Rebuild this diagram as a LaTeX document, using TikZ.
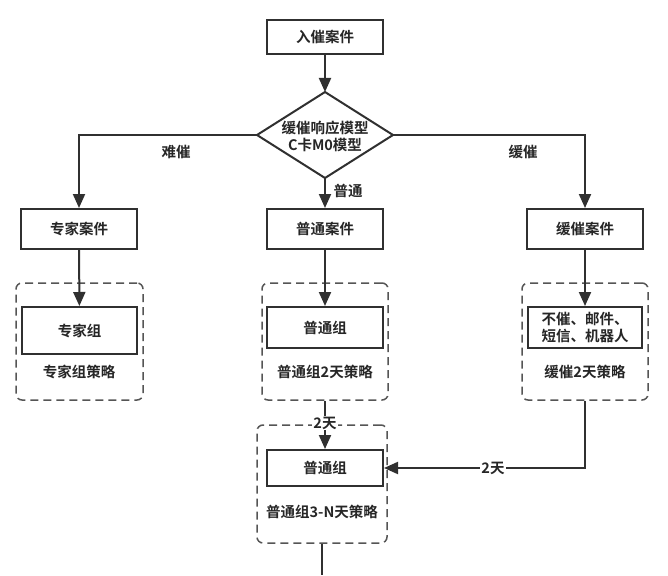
\documentclass[tikz,border=0pt]{standalone}
\usepackage{fontspec}
\setmainfont{Noto Sans CJK SC}[BoldFont={Noto Sans CJK SC Bold}]
\usetikzlibrary{arrows.meta}
\definecolor{ln}{HTML}{303030}
\definecolor{dsh}{HTML}{555555}
\definecolor{tx}{HTML}{262626}
\tikzset{
  txt/.style={font=\fontsize{14.5}{20}\selectfont\bfseries, text=tx},
  box/.style={txt, draw=ln, line width=2pt, fill=white, minimum width=116pt, minimum height=40pt, inner sep=0pt, align=center},
  grp/.style={draw=dsh, line width=1.5pt, dash pattern=on 8pt off 5pt, rounded corners=6pt, inner sep=0pt},
  arr/.style={draw=ln, line width=2pt, -{Triangle[length=14pt,width=12pt]}},
  plain/.style={draw=ln, line width=2pt},
  lbl/.style={txt, inner sep=1pt},
  wlbl/.style={txt, fill=white, inner sep=1pt}
}
\begin{document}
\begin{tikzpicture}[x=1pt,y=-1pt]
\useasboundingbox[fill=white] (0,0) rectangle (668,575);
% top
\node[box, minimum height=34pt] (n0) at (325,37) {入催案件};
% diamond
\coordinate (dT) at (325,92);
\coordinate (dL) at (257,135);
\coordinate (dR) at (393,135);
\coordinate (dB) at (325,178);
\draw[plain, line join=miter] (dT) -- (dR) -- (dB) -- (dL) -- cycle;
\node[txt, align=center] (d) at (325,136) {缓催响应模型\\[-3pt]C卡M0模型};
% row 2
\node[box] (n1) at (79,229) {专家案件};
\node[box] (n2) at (325,229) {普通案件};
\node[box] (n3) at (585,229) {缓催案件};
% containers
\node[grp, minimum width=127pt, minimum height=117pt] (g1) at (79.5,341.5) {};
\node[grp, minimum width=126pt, minimum height=117pt] (g2) at (325,341.5) {};
\node[grp, minimum width=126pt, minimum height=117pt] (g3) at (585,341.5) {};
\node[grp, minimum width=130pt, minimum height=118pt] (g4) at (322,484) {};
% inner boxes
\node[box, minimum width=115pt, minimum height=47pt] (b1) at (79.5,330.5) {专家组};
\node[box, minimum height=41pt] (b2) at (325,327.5) {普通组};
\node[box, minimum width=114pt, minimum height=41pt] (b3) at (585,327.5) {不催、邮件、\\[-3pt]短信、机器人};
\node[box, minimum height=36pt] (b4) at (325,468) {普通组};
% strategy labels
\node[txt] (s1) at (79,372) {专家组策略};
\node[txt] (s2) at (325,372) {普通组2天策略};
\node[txt] (s3) at (585,372) {缓催2天策略};
\node[txt] (s4) at (322,512) {普通组3-N天策略};
% connectors
\draw[arr] (n0) -- (dT);
\draw[arr] (dL) -| (n1);
\draw[arr] (dR) -| (n3);
\draw[arr] (dB) -- (n2);
\node[lbl] (l1) at (176,152) {难催};
\node[lbl] (l2) at (523,152) {缓催};
\node[lbl] (l3) at (348,191) {普通};
\draw[arr] (n1) -- (b1);
\draw[arr] (n2) -- (b2);
\draw[arr] (n3) -- (b3);
\draw[arr] (g2.south) -- (b4.north);
\node[wlbl] (l4) at (325,423) {2天};
\draw[arr] (g3.south) |- (b4.east);
\node[wlbl] (l5) at (493,468) {2天};
\coordinate (bot) at (322,575);
\draw[plain] (g4.south) -- (bot);
\end{tikzpicture}
\end{document}
